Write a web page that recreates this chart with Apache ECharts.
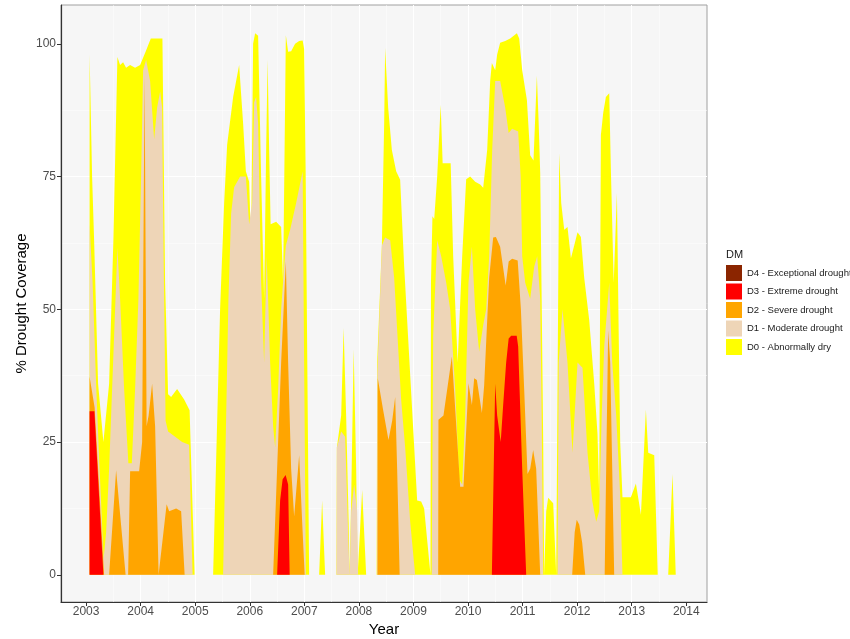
<!DOCTYPE html>
<html>
<head>
<meta charset="utf-8">
<script src="https://cdn.jsdelivr.net/npm/echarts@6/dist/echarts.min.js"></script>
<style>html,body{margin:0;padding:0;background:#fff}#c{width:850px;height:639px}</style>
</head>
<body>
<div id="c"></div>
<script>
// ---- tick labels ----
const yearTicks = [2003,2004,2005,2006,2007,2008,2009,2010,2011,2012,2013,2014];
const pctTicks = [0,25,50,75,100];
const categories = ['D0 - Abnormally dry','D1 - Moderate drought','D2 - Severe drought','D3 - Extreme drought','D4 - Exceptional drought'];

// ---- D0 - Abnormally dry (% coverage, cumulative) ----
const d0Years = [2003.064,2003.110,2003.147,2003.220,2003.317,2003.422,2003.500,2003.574,2003.623,2003.678,2003.733,2003.807,2003.898,2003.990,2004.094,2004.186,2004.399,2004.448,2004.503,2004.558,2004.668,2004.797,2004.897,2004.989,
2005.328,2005.456,2005.530,2005.585,2005.695,2005.805,2005.878,2005.928,2005.988,2006.025,2006.061,2006.098,2006.153,2006.208,2006.263,2006.300,2006.327,2006.355,2006.382,2006.483,2006.575,2006.611,2006.661,2006.703,2006.758,2006.831,2006.905,2006.969,2006.996,2007.024,2007.088,
2007.271,2007.326,2007.381,2007.589,2007.596,2007.675,2007.720,2007.766,2007.812,2007.830,2007.849,2007.858,2007.904,2007.950,2007.977,2008.005,2008.060,2008.133,
2008.325,2008.335,2008.421,2008.463,2008.481,2008.536,2008.604,2008.683,2008.756,2008.830,2008.949,2009.068,2009.141,2009.196,2009.312,
2009.321,2009.348,2009.380,2009.435,2009.499,2009.535,2009.682,2009.728,2009.810,2009.893,2009.966,2010.039,2010.131,2010.223,2010.278,2010.351,2010.406,2010.437,2010.498,2010.534,2010.589,2010.681,2010.773,2010.896,2010.938,2010.993,2011.079,2011.139,2011.200,2011.262,2011.295,2011.323,2011.354,2011.378,2011.396,
2011.424,2011.433,2011.469,2011.561,2011.616,
2011.634,2011.671,2011.708,2011.763,2011.823,2011.886,2011.946,2012.007,2012.069,2012.129,2012.221,2012.313,2012.373,2012.404,2012.435,2012.478,2012.527,2012.588,2012.619,2012.670,2012.729,2012.762,2012.789,2012.831,2012.985,2013.077,2013.169,2013.260,2013.303,2013.413,2013.449,2013.477,
2013.669,2013.748,2013.807];
const d0Values = [98,75,63,36,25,36,63,97.5,96,96.5,95.5,96,95.5,96,98.6,101,101,55,34,33.5,35,33,31,0,
0,50,70,81,90,96,85,76,74,62,100,102,101.5,75,52,80,97,80,66,66.5,65.5,55,101.6,98.5,98.6,100,100.5,100.6,99,76,0,
0,14,0,0,24,30,46.5,30,10,0,0,14,42.5,20,0,0,16,0,
0,40,62,85,99.2,88,80,76,74.4,58,36,14,13.8,12.5,0,
55,67.5,67,75,88.5,77.5,77.5,60,40,60,74.5,75,74,73.5,72.9,80,93,96.4,95,98,100.2,100.5,101,102,101,95,89.4,79,78,94,85,75.7,48,25,0,
0,12,14.5,13.5,0,
0,79.4,70,65,65.5,59.6,62,64.5,63.6,56,48,36,26.5,15,82.8,87,90,90.7,76,55,71.9,45,25,14.6,14.6,17.2,11.3,31.1,23,22.5,10,0,
0,19,0];

// ---- D1 - Moderate drought ----
const d1Years = [2003.064,2003.119,2003.183,2003.247,2003.321,2003.367,2003.422,2003.495,2003.574,2003.623,2003.697,2003.775,2003.838,2003.898,2003.959,2004.008,2004.045,2004.100,2004.173,2004.247,2004.302,2004.357,2004.393,2004.421,2004.457,2004.503,2004.632,2004.760,2004.888,2004.952,
2005.511,2005.609,2005.658,2005.713,2005.823,2005.928,2005.988,2006.043,2006.080,2006.116,2006.153,2006.208,2006.263,2006.309,2006.336,2006.373,2006.428,2006.465,2006.520,2006.575,2006.630,2006.661,2006.740,2006.850,2006.969,2006.996,2007.028,
2007.589,2007.596,2007.675,2007.748,2007.812,2007.830,2007.849,2007.858,2007.913,2007.968,2007.986,
2008.331,2008.338,2008.421,2008.481,2008.573,2008.646,2008.774,2008.848,2008.940,2009.031,
2009.334,2009.361,2009.435,2009.508,2009.600,2009.673,2009.765,2009.838,2009.893,2009.948,2010.008,2010.071,2010.131,2010.204,2010.278,2010.333,2010.388,2010.443,2010.498,2010.589,2010.681,2010.745,2010.809,2010.919,2010.965,2010.993,2011.048,2011.139,2011.213,2011.268,2011.323,2011.350,2011.378,
2011.640,2011.662,2011.732,2011.823,2011.915,2012.007,2012.098,2012.190,2012.276,2012.349,2012.404,2012.450,2012.496,2012.588,2012.643,2012.716,2012.789,2012.831];
const d1Values = [66,55,36,20,3,8,20,40,61.6,52,35,21,21,35,52,75,95,97,93,82,88,91,88,60,29,27,26,25,24.5,0,
0,52,68,73,75,75,66,70,89,90,85,55,40,60,52,40,28,24,35,50,58,62,65,70,76,40,0,
0,24,27,26,5,0,0,12,17,12,0,
0,38,62,63.5,63,56,33,24,10,0,
0,45,63,60,55,50,35,18,17,30,55,61.8,50,42,47,50,60,80,93,93,88,83.2,84,83.5,75,60,55,52,58,60,52,30,0,
0,40,50,40,23,40,39,23,14,10,12,30,43,55,40,30,15,0];

// ---- D2 - Severe drought ----
const d2Years = [2003.064,2003.156,2003.330,2003.422,2003.550,2003.724,2003.770,2003.807,2003.972,2004.027,2004.072,2004.109,2004.146,2004.210,2004.265,2004.329,2004.347,2004.476,2004.522,2004.650,2004.742,2004.806,
2006.428,2006.501,2006.575,2006.661,2006.703,2006.758,2006.813,2006.905,2006.960,2007.006,
2008.340,2008.346,2008.445,2008.542,2008.610,2008.665,2008.701,2008.747,
2009.453,2009.458,2009.550,2009.704,2009.856,2009.917,2010.008,2010.071,2010.113,2010.162,2010.254,2010.296,2010.388,2010.461,2010.511,2010.589,2010.690,2010.745,2010.809,2010.910,2010.969,2011.029,2011.090,2011.139,2011.194,2011.249,2011.323,
2011.909,2011.955,2011.992,2012.038,2012.093,2012.148,
2012.505,2012.532,2012.569,2012.606,2012.643,2012.679];
const d2Values = [37.3,31.5,0,0,19.7,0,0,19.5,19.5,25,94,28,30,36,28,0,0,13.3,12,12.5,12,0,
0,20,40,59,40,20,11,22.5,10,0,
0,37,31,25.4,29,33.5,20,0,
0,29.2,30,41.1,16.6,16.6,36.1,32,37,36.7,30.5,35.7,56,63.5,63.6,61.8,54.5,59,59.5,59.2,50,35,19,20,23.5,20,0,
0,8,10.4,9.5,6,0,
0,20,46,40,20,0];

// ---- D3 - Extreme drought ----
const d3Years = [2003.064,2003.152,2003.317,
2006.501,2006.556,2006.602,2006.657,2006.703,2006.731,
2010.437,2010.498,2010.534,2010.599,2010.644,2010.699,2010.745,2010.791,2010.892,2010.919,2010.993,2011.066];
const d3Values = [30.8,30.8,0,
0,14,18,18.8,17,0,
0,36,30,25,32,40,44.5,45,45,43,20,0];

// ---- D4 - Exceptional drought (none in this record) ----
const d4Years = [];
const d4Values = [];

const colors = ['#FFFF00','#EED5B7','#FFA500','#FF0000','#8B2500'];
const FONT = '"Liberation Sans", Arial, Helvetica, sans-serif';

function pairs(xs, ys) { return xs.map((x, i) => [x, ys[i]]); }
function areaSeries(name, color, xs, ys) {
  return {
    name: name, type: 'line', data: pairs(xs, ys),
    showSymbol: false, symbol: 'none', silent: true, animation: false,
    lineStyle: { width: 0, color: color, opacity: 0 },
    itemStyle: { color: color },
    areaStyle: { color: color, opacity: 1 }
  };
}

const chart = echarts.init(document.getElementById('c'), null, { renderer: 'canvas' });
const option = {
  animation: false,
  color: colors,
  textStyle: { fontFamily: FONT },
  title: {
    text: 'DM', left: 726, top: 249, padding: 0,
    textStyle: { fontSize: 11, fontWeight: 'normal', color: '#1a1a1a', fontFamily: FONT }
  },
  legend: {
    orient: 'vertical', left: 726, top: 265, padding: 0,
    itemWidth: 16, itemHeight: 16, itemGap: 2.5, icon: 'rect', selectedMode: false,
    textStyle: { fontSize: 9.5, color: '#1a1a1a', fontFamily: FONT },
    data: categories.slice().reverse()
  },
  grid: {
    left: 61, right: 143, top: 5, bottom: 37,
    outerBoundsMode: 'none', containLabel: false,
    show: true, backgroundColor: '#F6F6F6', borderColor: '#a0a0a0', borderWidth: 1
  },
  xAxis: {
    type: 'value', min: 2002.54, max: 2014.38, minInterval: 1, maxInterval: 1,
    name: 'Year', nameLocation: 'middle', nameGap: 20, nameMoveOverlap: false,
    nameTextStyle: { fontSize: 15, color: '#000', fontFamily: FONT },
    axisLine: { show: true, onZero: false, lineStyle: { color: '#333', width: 1.2 } },
    axisTick: { show: true, length: 4, customValues: yearTicks, lineStyle: { color: '#333' } },
    axisLabel: { customValues: yearTicks, fontSize: 12, color: '#4d4d4d', margin: 4, fontFamily: FONT,
      formatter: v => (Math.abs(v - Math.round(v)) < 1e-6 ? String(Math.round(v)) : '') },
    splitLine: { show: true, showMinLine: false, showMaxLine: false, lineStyle: { color: '#ffffff', width: 1 } },
    minorTick: { show: false, splitNumber: 2 },
    minorSplitLine: { show: true, lineStyle: { color: '#ffffff', width: 0.5 } }
  },
  yAxis: {
    type: 'value', min: -5.11, max: 107.3, minInterval: 25, maxInterval: 25,
    name: '% Drought Coverage', nameLocation: 'middle', nameGap: 32, nameMoveOverlap: false,
    nameTextStyle: { fontSize: 15, color: '#000', fontFamily: FONT },
    axisLine: { show: true, onZero: false, lineStyle: { color: '#333', width: 1.2 } },
    axisTick: { show: true, length: 4, customValues: pctTicks, lineStyle: { color: '#333' } },
    axisLabel: { customValues: pctTicks, fontSize: 12, color: '#4d4d4d', margin: 5, fontFamily: FONT,
      formatter: v => (Math.abs(v % 25) < 1e-6 ? String(v) : '') },
    splitLine: { show: true, showMinLine: false, showMaxLine: false, lineStyle: { color: '#ffffff', width: 1 } },
    minorTick: { show: false, splitNumber: 2 },
    minorSplitLine: { show: true, lineStyle: { color: '#ffffff', width: 0.5 } }
  },
  series: [
    areaSeries(categories[0], colors[0], d0Years, d0Values),
    areaSeries(categories[1], colors[1], d1Years, d1Values),
    areaSeries(categories[2], colors[2], d2Years, d2Values),
    areaSeries(categories[3], colors[3], d3Years, d3Values),
    areaSeries(categories[4], colors[4], d4Years, d4Values)
  ]
};
chart.setOption(option);
</script>
</body>
</html>
